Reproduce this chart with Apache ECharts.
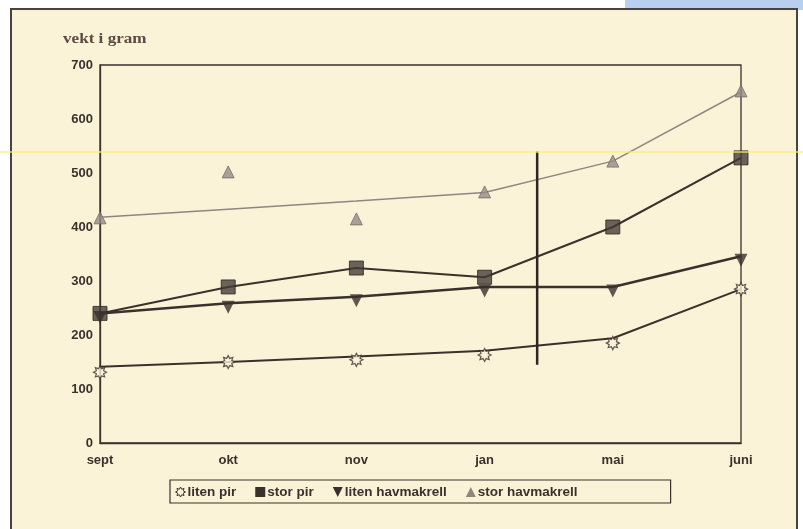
<!DOCTYPE html>
<html>
<head>
<meta charset="utf-8">
<script src="https://cdn.jsdelivr.net/npm/echarts@6/dist/echarts.min.js"></script>
<style>
  html, body { margin: 0; padding: 0; background: #ffffff; }
  #chart { width: 803px; height: 529px; }
</style>
</head>
<body>
<div id="chart"></div>
<script>
// Months along the x axis
const months = ['sept', 'okt', 'nov', 'jan', 'mai', 'juni'];

// Weight in grams: fitted line and measured points for each group
const litenPirLine    = [141, 150, 160, 171, 194, 285];
const litenPirPoints  = [131, 150, 154, 163, 185, 285];
const storPirLine     = [240, 289, 324, 307, 400, 528];
const storPirPoints   = [240, 289, 324, 307, 400, 528];
const litenHavLine    = [240, 259, 271, 289, 289, 346];
const litenHavPoints  = [240, 259, 271, 289, 289, 346];
const storHavLine     = [418, 433, 448, 464, 522, 650];
const storHavPoints   = [417, 502, 415, 465, 522, 652];

// Vertical divider between jan and mai
const dividerX = 3.41;
const dividerRange = [145, 540];

const seriesNames = ['liten pir', 'stor pir', 'liten havmakrell', 'stor havmakrell'];

const ink = '#3a312c';
const grey = '#8f8680';
const sunPath = 'path://M20 10 L15.54 12.3 L17.07 17.07 L12.3 15.54 L10 20 L7.7 15.54 L2.93 17.07 L4.46 12.3 L0 10 L4.46 7.7 L2.93 2.93 L7.7 4.46 L10 0 L12.3 4.46 L17.07 2.93 L15.54 7.7 Z';
const downTri = 'path://M0 0 L10 0 L5 10 Z';

const pairs = vals => vals.map((v, i) => [i, v]);

function lineSeries(name, vals, color, width) {
  return {
    name, type: 'line', data: pairs(vals), symbol: 'none', silent: true,
    lineStyle: { color, width }, z: 3
  };
}
function pointSeries(name, vals, symbol, size, style, offset) {
  return {
    name, type: 'scatter', data: pairs(vals), symbol, symbolSize: size,
    symbolOffset: offset || [0, 0], itemStyle: style, z: 4, silent: true
  };
}

const chart = echarts.init(document.getElementById('chart'));
chart.setOption({
  animation: false,
  backgroundColor: '#ffffff',
  graphic: [
    { type: 'rect', z: -10, shape: { x: 625, y: 0, width: 178, height: 10 }, style: { fill: '#b9cff0' } },
    { type: 'rect', z: -9, shape: { x: 11, y: 9, width: 786, height: 540 },
      style: { fill: '#fbf3d8', stroke: '#4a423c', lineWidth: 2 } },
    { type: 'text', x: 63, y: 32, z: 5, scaleX: 1.14, originX: 0, originY: 0,
      style: { text: 'vekt i gram', font: 'bold 15px "Liberation Serif", serif', fill: '#5a4b42' } },
    { type: 'line', z: 100, shape: { x1: 0, y1: 152, x2: 803, y2: 152 },
      style: { stroke: 'rgba(250,238,110,0.85)', lineWidth: 1.5 } }
  ],
  grid: {
    left: 100, top: 65, right: 62, bottom: 86,
    show: true, borderColor: ink, borderWidth: 1.3, backgroundColor: 'transparent'
  },
  xAxis: {
    type: 'value', min: 0, max: months.length - 1, interval: 1,
    axisLine: { show: true, onZero: false, lineStyle: { color: ink, width: 1.3 } },
    axisTick: { show: false },
    splitLine: { show: false },
    axisLabel: {
      margin: 11, color: ink, fontFamily: 'Liberation Sans, Arial, sans-serif',
      fontWeight: 'bold', fontSize: 13,
      formatter: v => months[v] || ''
    }
  },
  yAxis: {
    type: 'value', min: 0, max: 700, interval: 100,
    axisLine: { show: true, lineStyle: { color: ink, width: 1.3 } },
    axisTick: { show: false },
    splitLine: { show: false },
    axisLabel: {
      margin: 7, color: ink, fontFamily: 'Liberation Sans, Arial, sans-serif',
      fontWeight: 'bold', fontSize: 13
    }
  },
  legend: {
    left: 170, top: 480,
    padding: [5, 93, 4, 5],
    borderColor: ink, borderWidth: 1.2,
    itemWidth: 10, itemHeight: 10, itemGap: 19,
    textStyle: { color: ink, fontFamily: 'Liberation Sans, Arial, sans-serif', fontWeight: 'bold', fontSize: 13.5, padding: [0, 0, 0, -3] },
    data: [
      { name: seriesNames[0], icon: sunPath, itemStyle: { color: '#fbf3d8', borderColor: ink, borderWidth: 1 } },
      { name: seriesNames[1], icon: 'rect', itemStyle: { color: ink, borderWidth: 0 } },
      { name: seriesNames[2], icon: downTri, itemStyle: { color: ink, borderWidth: 0 } },
      { name: seriesNames[3], icon: 'triangle', itemStyle: { color: grey, borderWidth: 0 } }
    ]
  },
  series: [
    lineSeries(seriesNames[3], storHavLine, grey, 1.5),
    lineSeries(seriesNames[1], storPirLine, ink, 2),
    lineSeries(seriesNames[2], litenHavLine, ink, 2.5),
    lineSeries(seriesNames[0], litenPirLine, ink, 2),
    pointSeries(seriesNames[3], storHavPoints, 'triangle', 12, { color: '#968b84', borderColor: '#766c66', borderWidth: 1 }),
    pointSeries(seriesNames[1], storPirPoints, 'rect', 14, { color: '#463c37', borderColor: '#2e2622', borderWidth: 1 }),
    pointSeries(seriesNames[2], litenHavPoints, downTri, 13, { color: ink }, [0, 4]),
    pointSeries(seriesNames[0], litenPirPoints, sunPath, 13, { color: '#fbf3d8', borderColor: ink, borderWidth: 1.2 }),
    {
      type: 'line', silent: true, symbol: 'none', z: 5,
      data: dividerRange.map(v => [dividerX, v]),
      lineStyle: { color: '#2e2622', width: 2.5 }
    }
  ]
});
</script>
</body>
</html>
